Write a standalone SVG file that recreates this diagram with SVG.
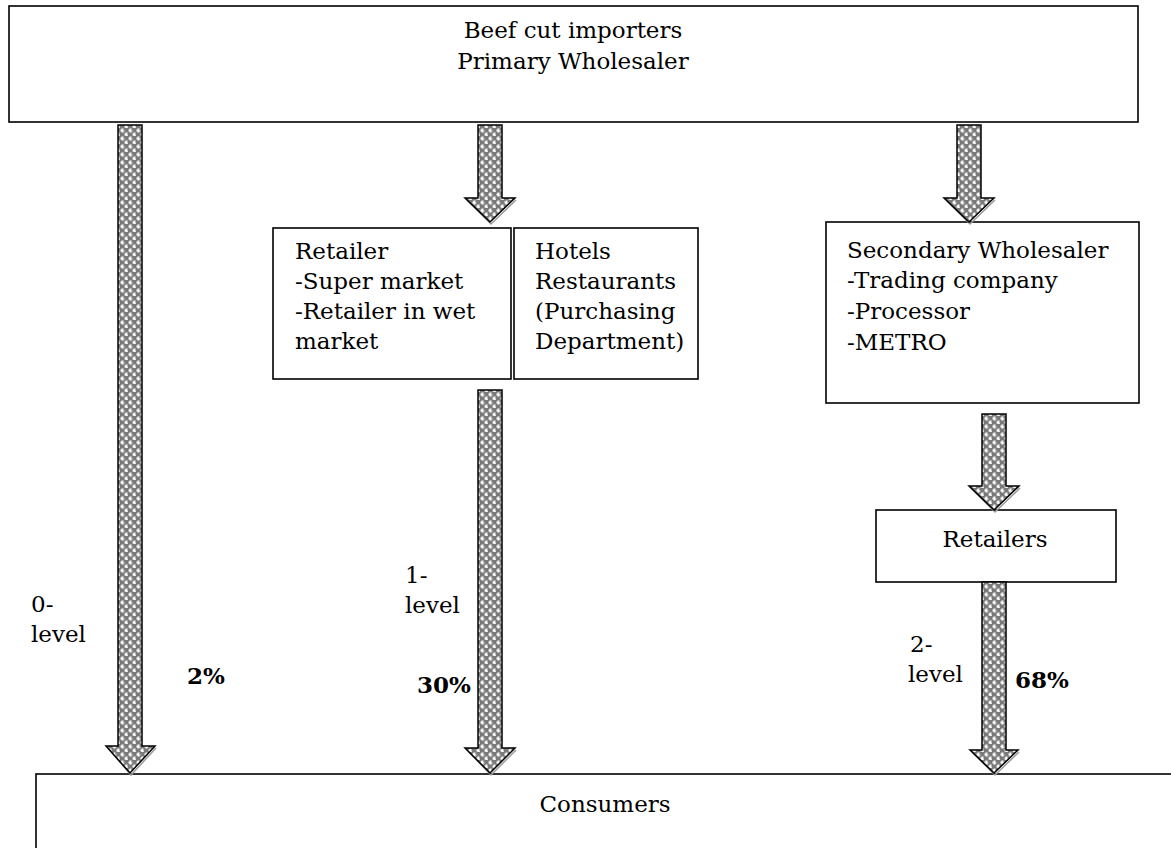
<svg xmlns="http://www.w3.org/2000/svg" width="1171" height="848" viewBox="0 0 1171 848">
  <style>
    .box { fill: #ffffff; stroke: #000000; stroke-width: 1.6; }
    .txt { font-family: "DejaVu Serif", "Liberation Serif", serif; font-size: 23px; fill: #000000; }
    .bold { font-weight: bold; }
    .arrow { fill: url(#checker); stroke: #000000; stroke-width: 1.5; stroke-linejoin: miter; }
    .shadow { fill: none; stroke: #9a9a9a; stroke-width: 1.5; }
  </style>
  <defs>
    <!-- checker fill with white crosses on grey -->
    <pattern id="checker" width="8" height="8" patternUnits="userSpaceOnUse">
      <rect width="8" height="8" fill="#7a7a7a"/>
      <path d="M1 0h2v1h1v2h-1v1h-2v-1h-1v-2h1z" fill="#ffffff" transform="translate(0.5,0.5)"/>
      <path d="M1 0h2v1h1v2h-1v1h-2v-1h-1v-2h1z" fill="#ffffff" transform="translate(4.5,4.5)"/>
      <rect x="3.5" y="1.5" width="1" height="1" fill="#2a2a2a"/>
      <rect x="7.5" y="5.5" width="1" height="1" fill="#2a2a2a"/>
    </pattern>
  </defs>

  <!-- nodes -->
  <g id="primary-wholesaler">
    <rect class="box" x="9" y="6" width="1129" height="116"/>
    <text class="txt" x="573" y="38" text-anchor="middle">Beef cut importers</text>
    <text class="txt" x="573" y="69" text-anchor="middle">Primary Wholesaler</text>
  </g>

  <g id="retailer">
    <rect class="box" x="273" y="228" width="238" height="151"/>
    <text class="txt" x="295" y="259">Retailer</text>
    <text class="txt" x="295" y="289">-Super market</text>
    <text class="txt" x="295" y="319">-Retailer in wet</text>
    <text class="txt" x="295" y="349">market</text>
  </g>

  <g id="hotels">
    <rect class="box" x="514" y="228" width="184" height="151"/>
    <text class="txt" x="535" y="259">Hotels</text>
    <text class="txt" x="535" y="289">Restaurants</text>
    <text class="txt" x="535" y="319">(Purchasing</text>
    <text class="txt" x="535" y="349">Department)</text>
  </g>

  <g id="secondary-wholesaler">
    <rect class="box" x="826" y="222" width="313" height="181"/>
    <text class="txt" x="847" y="258">Secondary Wholesaler</text>
    <text class="txt" x="847" y="288">-Trading company</text>
    <text class="txt" x="847" y="319">-Processor</text>
    <text class="txt" x="847" y="350">-METRO</text>
  </g>

  <g id="retailers">
    <rect class="box" x="876" y="510" width="240" height="72"/>
    <text class="txt" x="995" y="547" text-anchor="middle">Retailers</text>
  </g>

  <g id="consumers">
    <rect class="box" x="36" y="774" width="1160" height="100"/>
    <text class="txt" x="605" y="812" text-anchor="middle">Consumers</text>
  </g>

  <!-- connectors -->
  <g id="connectors">
    <!-- 0-level: primary wholesaler to consumers -->
    <polyline class="shadow" points="108,748 131,775 156,748"/>
    <polygon class="arrow" points="118,125 142,125 142,746 155,746 130,773 106,746 118,746"/>
    <!-- primary wholesaler to retailer / hotels -->
    <polyline class="shadow" points="467,200 491,224 516,200"/>
    <polygon class="arrow" points="478,125 502,125 502,198 515,198 490,222 465,198 478,198"/>
    <!-- primary wholesaler to secondary wholesaler -->
    <polyline class="shadow" points="946,200 970,224 995,200"/>
    <polygon class="arrow" points="957,125 981,125 981,198 994,198 969,222 944,198 957,198"/>
    <!-- 1-level: retailer / hotels to consumers -->
    <polyline class="shadow" points="467,750 491,775 516,750"/>
    <polygon class="arrow" points="478,390 502,390 502,748 515,748 490,773 465,748 478,748"/>
    <!-- secondary wholesaler to retailers -->
    <polyline class="shadow" points="971,488 995,512 1020,488"/>
    <polygon class="arrow" points="982,414 1006,414 1006,486 1019,486 994,510 969,486 982,486"/>
    <!-- 2-level: retailers to consumers -->
    <polyline class="shadow" points="972,752 995,775 1019,752"/>
    <polygon class="arrow" points="982,582 1006,582 1006,750 1018,750 994,773 970,750 982,750"/>
  </g>

  <!-- channel labels -->
  <g id="labels">
    <text class="txt" x="31" y="612">0-</text>
    <text class="txt" x="31" y="642">level</text>
    <text class="txt bold" x="187" y="684">2%</text>
    <text class="txt" x="405" y="583">1-</text>
    <text class="txt" x="405" y="613">level</text>
    <text class="txt bold" x="417" y="693">30%</text>
    <text class="txt" x="910" y="652">2-</text>
    <text class="txt" x="908" y="682">level</text>
    <text class="txt bold" x="1015" y="688">68%</text>
  </g>
</svg>
